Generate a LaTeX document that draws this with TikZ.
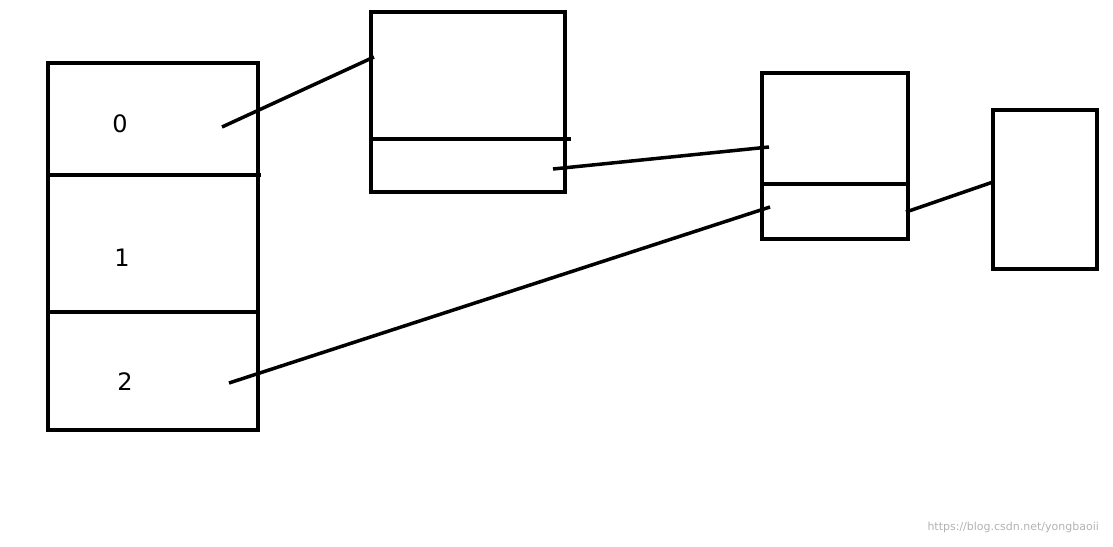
\documentclass[tikz,border=0pt]{standalone}
\usepackage{fontspec}
\setmainfont{DejaVu Sans}
\begin{document}
\begin{tikzpicture}[x=1pt,y=-1pt,line width=3.5pt,
  box/.style={draw=black,line width=3.5pt},
  lbl/.style={font=\fontsize{24}{28}\selectfont},
  wm/.style={text=gray!60,font=\fontsize{11}{13}\selectfont,anchor=east}]
\useasboundingbox (0,0) rectangle (1113,546);
\draw[box] (48,63) rectangle (258,430);
\draw (48,175) -- (261,175);
\draw (48,312) -- (258,312);
\node[lbl] (n0) at (120,124) {0};
\node[lbl] (n1) at (122,258) {1};
\node[lbl] (n2) at (125,382) {2};
\draw[box] (371,12) rectangle (565,192);
\draw (371,139) -- (571,139);
\draw[box] (762,73) rectangle (908,239);
\draw (762,184) -- (908,184);
\draw[box] (993,110) rectangle (1097,269);
\coordinate (a0) at (222,127); \coordinate (b0) at (374,57);
\coordinate (a1) at (553,169); \coordinate (b1) at (769,147);
\coordinate (a2) at (229,383); \coordinate (b2) at (770,207);
\coordinate (a3) at (906,212); \coordinate (b3) at (993,182);
\draw (a0) -- (b0);
\draw (a1) -- (b1);
\draw (a2) -- (b2);
\draw (a3) -- (b3);
\node[wm] (w) at (1104,527) {https://blog.csdn.net/yongbaoii};
\end{tikzpicture}
\end{document}
